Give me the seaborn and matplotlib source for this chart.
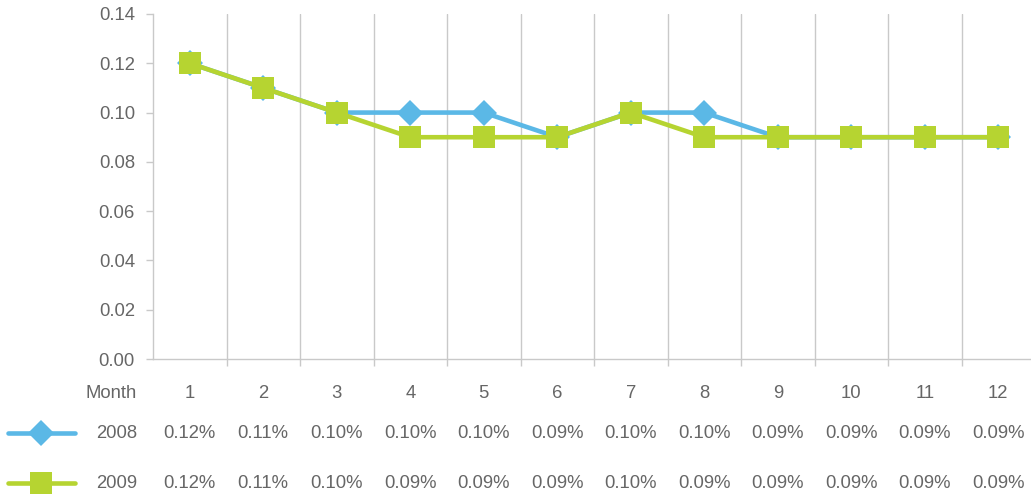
import matplotlib
matplotlib.use("Agg")
import matplotlib.pyplot as plt
from matplotlib.lines import Line2D
import matplotlib.transforms as mtransforms
import seaborn as sns
import pandas as pd

months = list(range(1, 13))
rate_2008 = [0.12, 0.11, 0.10, 0.10, 0.10, 0.09, 0.10, 0.10, 0.09, 0.09, 0.09, 0.09]
rate_2009 = [0.12, 0.11, 0.10, 0.09, 0.09, 0.09, 0.10, 0.09, 0.09, 0.09, 0.09, 0.09]
y_ticks = [0.00, 0.02, 0.04, 0.06, 0.08, 0.10, 0.12, 0.14]

blue = "#5bb8e6"
green = "#b6d431"
text_c = "#666666"
grid_c = "#c9c9c9"
fs = 13.3

sns.set_theme(style="white")
plt.rcParams["font.family"] = ["Liberation Sans", "DejaVu Sans"]

W, H = 1031, 496
fig = plt.figure(figsize=(W / 100, H / 100), dpi=100)
ax = fig.add_axes([153 / W, 1 - 359 / H, (1035 - 153) / W, (359 - 14) / H])

ms_d, ms_s = 13.5, 16.3
df08 = pd.DataFrame({"Month": months, "Rate": rate_2008})
df09 = pd.DataFrame({"Month": months, "Rate": rate_2009})
sns.lineplot(data=df08, x="Month", y="Rate", ax=ax, color=blue, lw=3.3,
             marker="D", markersize=ms_d, markeredgewidth=0, clip_on=False, zorder=3)
sns.lineplot(data=df09, x="Month", y="Rate", ax=ax, color=green, lw=3.3,
             marker="s", markersize=ms_s, markeredgewidth=0, clip_on=False, zorder=4)

ax.set_xlim(0.5, 12.5)
ax.set_ylim(0, 0.14)
ax.set_yticks(y_ticks)
ax.set_yticklabels([f"{v:.2f}" for v in y_ticks])
ax.set_xticks([m + 0.5 for m in months[:-1]])
ax.set_xticklabels([])
ax.set_xlabel("")
ax.set_ylabel("")

for m in months[:-1]:
    ax.axvline(m + 0.5, color=grid_c, lw=1, zorder=1)

for s in ["top", "right"]:
    ax.spines[s].set_visible(False)
for s in ["left", "bottom"]:
    ax.spines[s].set_color(grid_c)
    ax.spines[s].set_linewidth(1)

ax.tick_params(axis="y", left=True, length=5, width=1, color=grid_c,
               labelsize=fs, labelcolor=text_c, pad=8)
ax.tick_params(axis="x", bottom=True, length=5, width=1, color=grid_c)

# data table below the axis
row_tr = mtransforms.blended_transform_factory(ax.transData, fig.transFigure)
label_x = 137 / W
rows = [("Month", [str(m) for m in months], 393),
        ("2008", [f"{v:.2f}%" for v in rate_2008], 433),
        ("2009", [f"{v:.2f}%" for v in rate_2009], 483)]
for name, cells, ypx in rows:
    yf = 1 - ypx / H
    fig.text(label_x, yf, name, ha="right", va="center", fontsize=fs, color=text_c)
    for m, c in zip(months, cells):
        ax.text(m, yf, c, transform=row_tr, ha="center", va="center",
                fontsize=fs, color=text_c, clip_on=False)

# legend keys beside the series rows
for ypx, col, mk, ms in [(433, blue, "D", ms_d), (483, green, "s", ms_s)]:
    yf = 1 - ypx / H
    fig.add_artist(Line2D([8 / W, 75 / W], [yf, yf], transform=fig.transFigure,
                          color=col, lw=3.3))
    fig.add_artist(Line2D([41 / W], [yf], transform=fig.transFigure, color=col,
                          marker=mk, markersize=ms, markeredgewidth=0, lw=0))

fig.savefig("out.png", dpi=100)
